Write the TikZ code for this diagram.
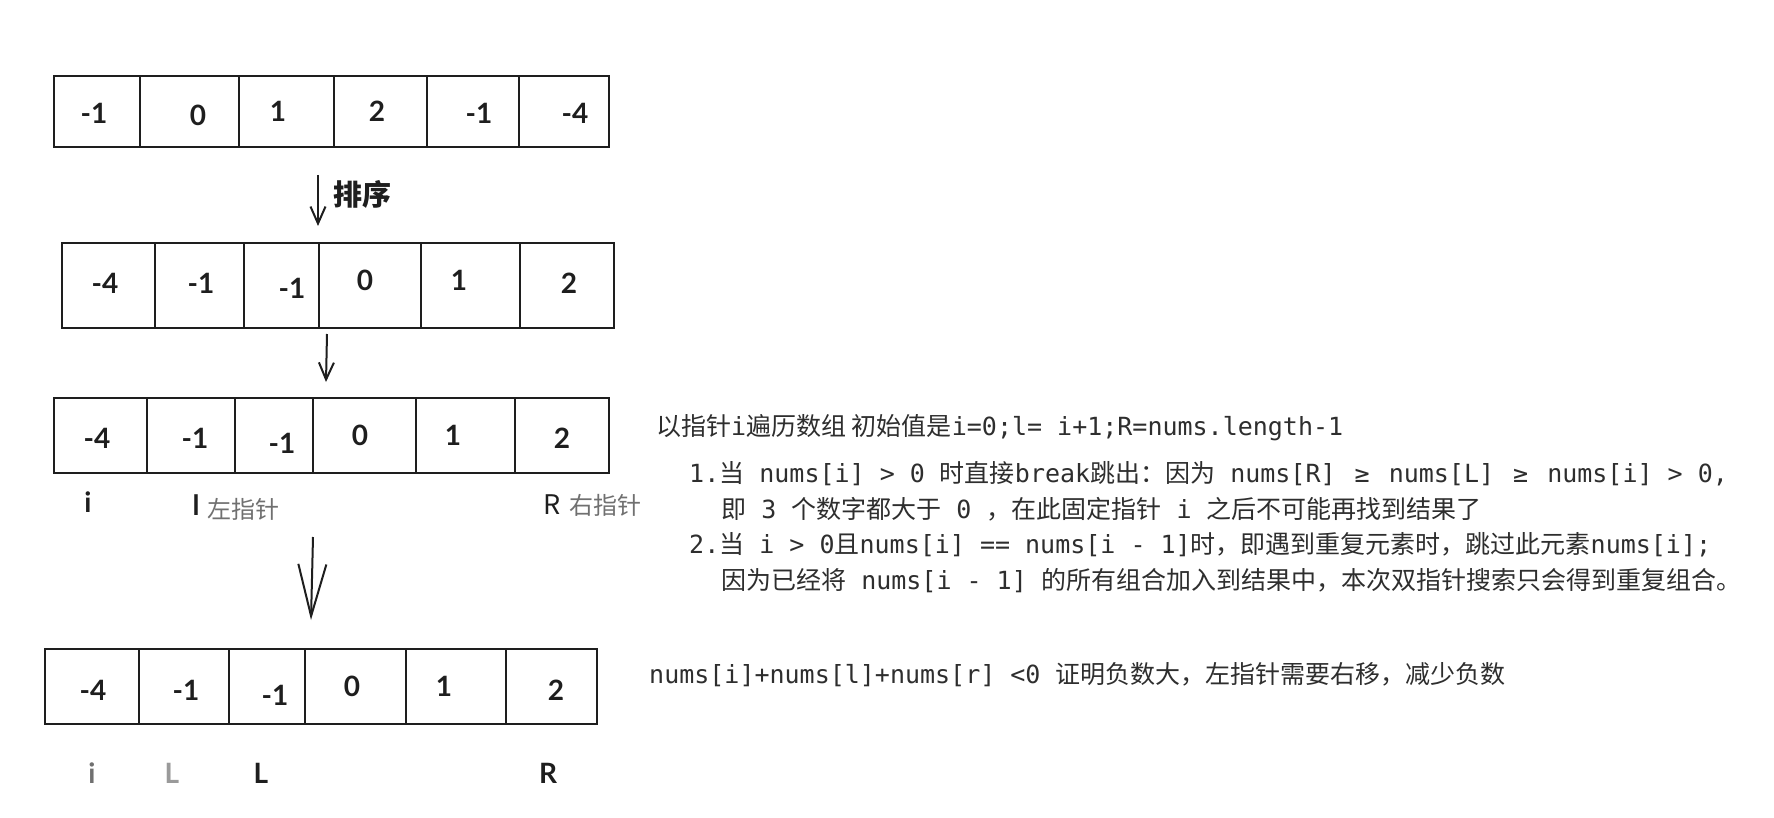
\documentclass[tikz,border=0pt]{standalone}
\usepackage{fontspec}
\setmainfont{DejaVu Sans Mono}
\newfontfamily\zh{Noto Sans CJK SC}
\newfontfamily\hand{Lato}
\usetikzlibrary{arrows.meta}
\definecolor{ink}{HTML}{1E1E1E}
\definecolor{txt}{HTML}{2E2E2E}
\definecolor{soft}{HTML}{707070}
\definecolor{pale}{HTML}{9A9A9A}
\newcommand\mygeq{\kern4pt≥\kern4pt\ }
\tikzset{
  cellbox/.style={draw=ink, line width=2.6pt, inner sep=0pt, outer sep=0pt},
  val/.style={font=\hand\bfseries\fontsize{28}{28}\selectfont, text=ink, inner sep=0pt},
  ptr/.style={font=\hand\bfseries\fontsize{28}{28}\selectfont, inner sep=0pt},
  note/.style={font=\fontsize{25}{30}\selectfont, text=txt, anchor=west, inner sep=0pt},
  arrowsmall/.style={draw=ink, line width=2pt, -{Straight Barb[length=17pt,width=15pt]}},
  arrowbig/.style={draw=ink, line width=2pt, -{Straight Barb[length=52pt,width=28pt]}},
}
\begin{document}
\begin{tikzpicture}[x=1pt,y=-1pt]
\fill[white] (0,0) rectangle (1774,818);
\useasboundingbox (0,0) rectangle (1774,818);

% ---------- row 1 ----------
\foreach \a/\b [count=\k] in {54/140,140/239,239/334,334/427,427/519,519/609}
  \node[cellbox, minimum width=\b-\a, minimum height=71] (a\k) at ({(\a+\b)/2},111.5) {};
\node[val] (va1) at (94,113) {-1};
\node[val] (va2) at (198,115) {0};
\node[val] (va3) at (278,111) {1};
\node[val] (va4) at (377,111) {2};
\node[val] (va5) at (479,113) {-1};
\node[val] (va6) at (575,113) {-4};

% arrow 1
\coordinate (s1) at (318,175);
\coordinate (e1) at (318,226);
\draw[arrowsmall] (s1) -- (e1);
\node[font=\zh\bfseries\fontsize{29}{29}\selectfont, text=ink, anchor=west, inner sep=0pt] (sort) at (333,194) {排序};

% ---------- row 2 ----------
\foreach \a/\b [count=\k] in {62/155,155/244,244/319,319/421,421/520,520/614}
  \node[cellbox, minimum width=\b-\a, minimum height=85] (b\k) at ({(\a+\b)/2},285.5) {};
\node[val] (vb1) at (105,283) {-4};
\node[val] (vb2) at (201,283) {-1};
\node[val] (vb3) at (292,288) {-1};
\node[val] (vb4) at (365,280) {0};
\node[val] (vb5) at (459,280) {1};
\node[val] (vb6) at (569,283) {2};

% arrow 2
\coordinate (s2) at (327,334);
\coordinate (e2) at (326,382);
\draw[arrowsmall] (s2) -- (e2);

% ---------- row 3 ----------
\foreach \a/\b [count=\k] in {54/147,147/235,235/313,313/416,416/515,515/609}
  \node[cellbox, minimum width=\b-\a, minimum height=75] (c\k) at ({(\a+\b)/2},435.5) {};
\node[val] (vc1) at (97,438) {-4};
\node[val] (vc2) at (195,438) {-1};
\node[val] (vc3) at (282,443) {-1};
\node[val] (vc4) at (360,435) {0};
\node[val] (vc5) at (453,435) {1};
\node[val] (vc6) at (562,438) {2};

\node[ptr, text=ink] (pi3) at (88,502) {i};
\node[ptr, text=ink] (pl3) at (196,505) {l};
\node[font=\zh\fontsize{24}{24}\selectfont, text=soft, anchor=west, inner sep=0pt] (lz3) at (207,509) {左指针};
\node[font=\zh\fontsize{27}{27}\selectfont, text=ink, inner sep=0pt] (pr3) at (552,505) {R};
\node[font=\zh\fontsize{24}{24}\selectfont, text=soft, anchor=west, inner sep=0pt] (rz3) at (569,505) {右指针};

% arrow 3
\coordinate (s3) at (313,537);
\coordinate (e3) at (311,620);
\draw[arrowbig] (s3) -- (e3);

% ---------- row 4 ----------
\foreach \a/\b [count=\k] in {45/139,139/229,229/305,305/406,406/506,506/597}
  \node[cellbox, minimum width=\b-\a, minimum height=75] (d\k) at ({(\a+\b)/2},686.5) {};
\node[val] (vd1) at (93,690) {-4};
\node[val] (vd2) at (186,690) {-1};
\node[val] (vd3) at (275,695) {-1};
\node[val] (vd4) at (352,686) {0};
\node[val] (vd5) at (444,686) {1};
\node[val] (vd6) at (556,690) {2};

\node[ptr, text=soft] (pi4) at (92,773) {i};
\node[ptr, text=pale] (pl4a) at (172,773) {L};
\node[ptr, text=ink] (pl4b) at (261,773) {L};
\node[ptr, text=ink] (pr4) at (548,773) {R};

% ---------- notes ----------
\node[note] (n1) at (656,428) {{\zh 以指针}i{\zh 遍历数组 初始值是}i=0;l= i+1;R=nums.length-1};
\node[note] (n2) at (689,474) {1.{\zh 当} nums[i] > 0 {\zh 时直接}break{\zh 跳出：因为} nums[R] \mygeq nums[L] \mygeq nums[i] > 0,};
\node[note] (n3) at (721,509) {{\zh 即} 3 {\zh 个数字都大于} 0 {\zh ，在此固定指针} i {\zh 之后不可能再找到结果了}};
\node[note] (n4) at (689,545) {2.{\zh 当} i > 0{\zh 且}nums[i] == nums[i - 1]{\zh 时，即遇到重复元素时，跳过此元素}nums[i];};
\node[note] (n5) at (721,581) {{\zh 因为已经将} nums[i - 1] {\zh 的所有组合加入到结果中，本次双指针搜索只会得到重复组合。}};
\node[note] (n6) at (649,675) {nums[i]+nums[l]+nums[r] <0 {\zh 证明负数大，左指针需要右移，减少负数}};
\end{tikzpicture}
\end{document}
